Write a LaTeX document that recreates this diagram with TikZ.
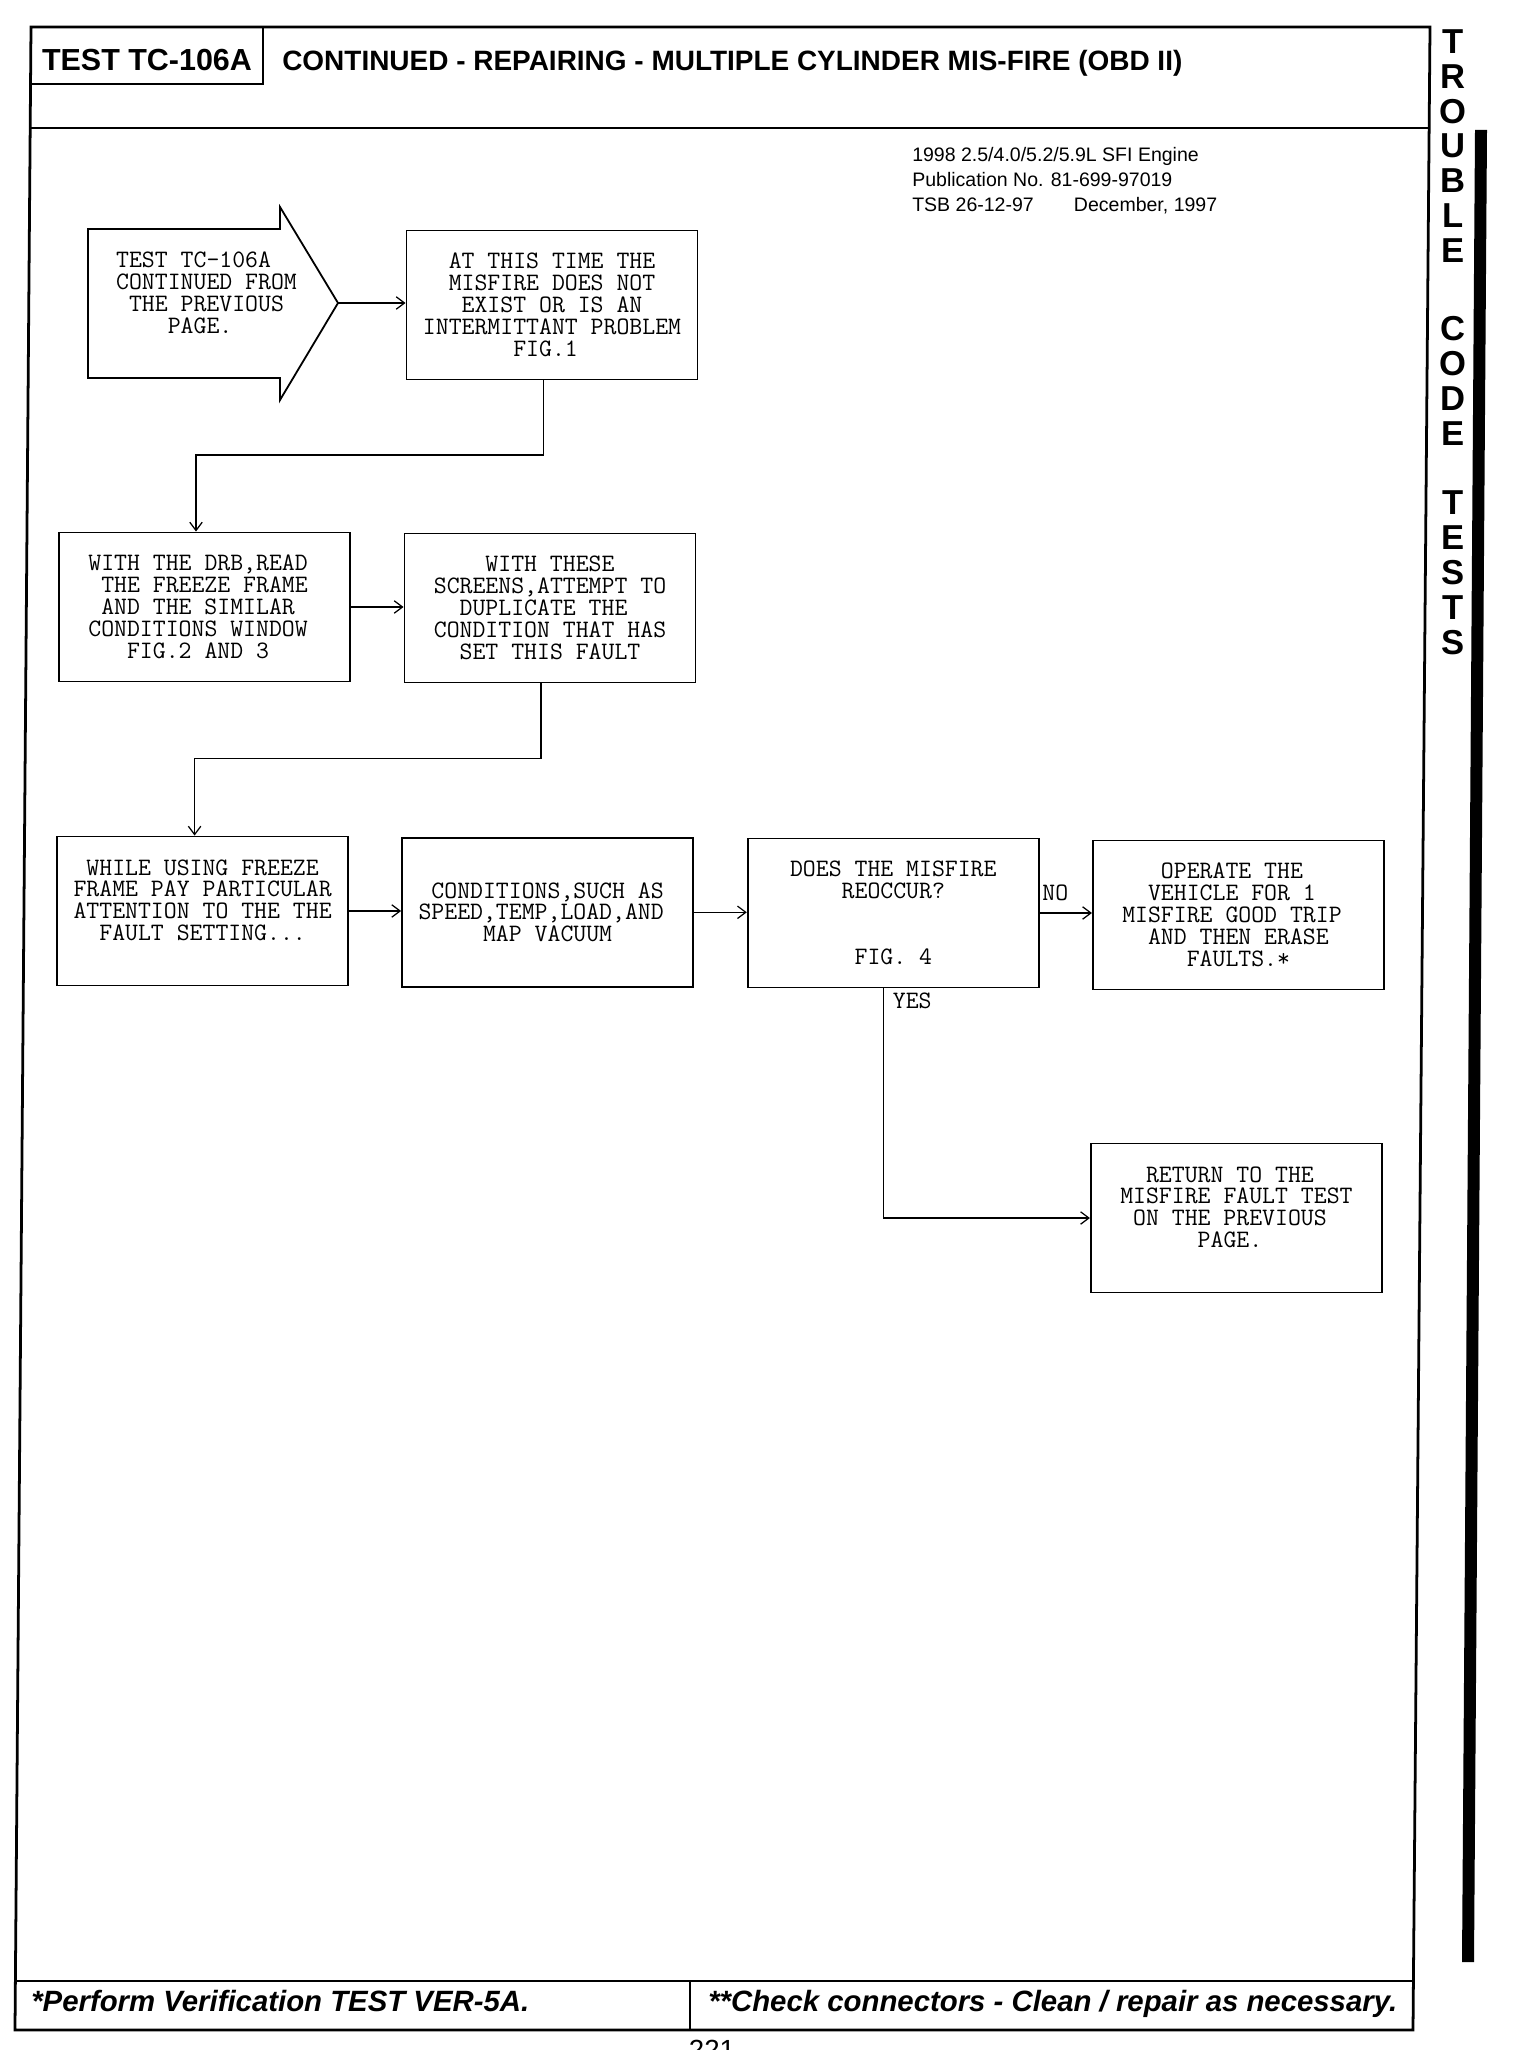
\documentclass[tikz,border=0pt]{standalone}
\usepackage{fontspec}
\setmainfont{Liberation Sans}
\usetikzlibrary{arrows.meta}
\newcommand\chartfont{\ttfamily\fontsize{18.1pt}{15.8pt}\selectfont}
\newcommand\pad{\hphantom{X}}

\begin{document}
\begin{tikzpicture}[x=0.01in,y=-0.01in,inner sep=0pt,
    box/.style={draw,line width=1.3pt,minimum width=2.91in,minimum height=1.49in,align=center,font=\chartfont},
    flow/.style={-{Straight Barb[length=6pt,width=9pt]},line width=0.9pt},
    pageline/.style={line width=2pt}]
  \useasboundingbox (0,0) rectangle (1520,2050);
  % page frame and header
  \draw[pageline] (31,27) -- (1430,27) -- (1413,2030) -- (15,2030) -- cycle;
  \draw[pageline] (30,128) -- (1429,128);
  \draw[pageline] (31,84) -- (263,84) -- (263,27);
  \draw[pageline] (15,1981) -- (1413,1981);
  \draw[pageline] (690,1981) -- (690,2030);
  \node[anchor=base,font=\bfseries\fontsize{22pt}{22pt}\selectfont] (testno) at (147,70.6) {TEST TC-106A};
  \node[anchor=base west,font=\bfseries\fontsize{20.2pt}{20.2pt}\selectfont] (title) at (282,70.6) {CONTINUED - REPAIRING - MULTIPLE CYLINDER MIS-FIRE (OBD II)};
  \node[anchor=north west,align=left,font=\fontsize{14.1pt}{17.9pt}\selectfont] (engine) at (912,147.5) {1998 2.5/4.0/5.2/5.9L SFI Engine\\Publication No. 81-699-97019\\TSB 26-12-97\hspace{29pt}December, 1997};
  \foreach \ch/\k [count=\n] in {T/0,R/1,O/2,U/3,B/4,L/5,E/6,C/8.25,O/9.25,D/10.25,E/11.25,T/13.25,E/14.25,S/15.25,T/16.25,S/17.25}
    \node[font=\bfseries\fontsize{25pt}{25pt}\selectfont] (side\n) at (1453,{41.8+34.8*\k}) {\ch};
  \fill (1475,130) -- (1487,130) -- (1474,1962) -- (1462,1962) -- cycle;
  \node[anchor=base west,font=\bfseries\itshape\fontsize{21.2pt}{21.2pt}\selectfont] (verify) at (31,2011) {*Perform Verification TEST VER-5A.};
  \node[anchor=base west,font=\bfseries\itshape\fontsize{21.2pt}{21.2pt}\selectfont] (check) at (708,2011) {**Check connectors - Clean / repair as necessary.};
  \node[anchor=base,font=\fontsize{20pt}{20pt}\selectfont] (page) at (712,2059) {221};
  % flow chart
  \draw[line width=1.3pt] (88,229) -- (280,229) -- (280,207) -- (338,303) coordinate (tip) -- (280,400) -- (280,378) -- (88,378) -- cycle;
  \node[align=center,font=\chartfont] (start) at (206.5,293) {TEST TC-106A\pad\pad\\CONTINUED FROM\\THE PREVIOUS\\PAGE.\pad};
  \node[box] (notnow) at (552,305) {AT THIS TIME THE\\MISFIRE DOES NOT\\EXIST OR IS AN\\INTERMITTANT PROBLEM\\FIG.1\pad};
  \node[box] (readff) at (204.5,607) {WITH THE DRB,READ\pad\\THE FREEZE FRAME\\AND THE SIMILAR\pad\\CONDITIONS WINDOW\pad\\FIG.2 AND 3\pad};
  \node[box] (duplicate) at (550,608) {WITH THESE\\SCREENS,ATTEMPT TO\\DUPLICATE THE\pad\\CONDITION THAT HAS\\SET THIS FAULT};
  \node[box] (watch) at (202.6,911) {WHILE USING FREEZE\\FRAME PAY PARTICULAR\\ATTENTION TO THE THE\\FAULT SETTING...\\\mbox{}};
  \node[box] (conds) at (547.6,912.3) {CONDITIONS,SUCH AS\\SPEED,TEMP,LOAD,AND\pad\\MAP VACUUM};
  \node[box] (reoccur) at (893.3,913) {DOES THE MISFIRE\\REOCCUR?\\\mbox{}\\\mbox{}\\FIG. 4};
  \node[box] (goodtrip) at (1238.4,915) {OPERATE THE\pad\\VEHICLE FOR 1\pad\\MISFIRE GOOD TRIP\pad\\\pad AND THEN ERASE\pad\\FAULTS.*};
  \node[box] (goback) at (1236.4,1218) {RETURN TO THE\pad\\MISFIRE FAULT TEST\\ON THE PREVIOUS\pad\\PAGE.\pad\\\mbox{}};
  \draw[flow] (tip) -- (tip -| notnow.west);
  \draw[flow] ([xshift=-0.085in]notnow.south) -- ++(0,74.5) -| ([xshift=-0.085in]readff.north);
  \draw[flow] (readff.east) -- (readff.east -| duplicate.west);
  \draw[flow] ([xshift=-0.09in]duplicate.south) -- ++(0,74.8) -| ([xshift=-0.08in]watch.north);
  \draw[flow] (watch.east) -- (watch.east -| conds.west);
  \draw[flow] (conds.east) -- (conds.east -| reoccur.west);
  \draw[flow] (reoccur.east) -- node[pos=0,anchor=base west,xshift=0.02in,yshift=0.13in,font=\chartfont] (no) {NO} (reoccur.east -| goodtrip.west);
  \draw[flow] ([xshift=-0.1in]reoccur.south) |- node[pos=0,anchor=north west,xshift=0.09in,yshift=-0.04in,font=\chartfont] (yes) {YES} (goback.west);
\end{tikzpicture}
\end{document}
